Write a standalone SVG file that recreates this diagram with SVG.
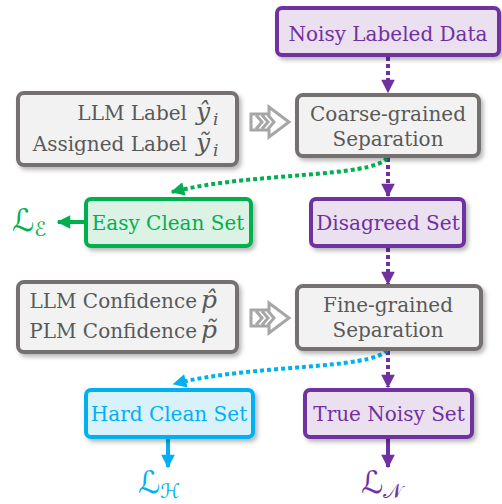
<svg xmlns="http://www.w3.org/2000/svg" width="502" height="504" viewBox="0 0 502 504">
  <style>
    .lbl { font-family: "DejaVu Serif", "Liberation Serif", serif; font-size: 20px; text-anchor: middle; }
    .lblR { font-family: "DejaVu Serif", "Liberation Serif", serif; font-size: 20px; text-anchor: end; }
    .math { font-family: "DejaVu Serif", "Liberation Serif", serif; font-style: italic; font-size: 25px; }
    .sub { font-family: "DejaVu Serif", "Liberation Serif", serif; font-style: italic; font-size: 17px; }
    .cal { font-family: "DejaVu Serif", "DejaVu Sans", serif; font-size: 31px; }
    .calsub { font-size: 20px; }
    .box { stroke-width: 4; filter: url(#shadow); }
    .purple { fill: #ebe0f0; stroke: #7030a0; }
    .gray { fill: #f2f2f2; stroke: #767171; }
    .green { fill: #dcf2e5; stroke: #00b050; }
    .blue { fill: #d9f1fb; stroke: #00b0f0; }
    .tp { fill: #7030a0; }
    .tg { fill: #595959; }
    .tgr { fill: #00b050; }
    .tb { fill: #00b0f0; }
    .dotP { fill: none; stroke: #7030a0; stroke-width: 4; stroke-dasharray: 4 3; }
    .dotG { fill: none; stroke: #00b050; stroke-width: 4; stroke-dasharray: 4 3; }
    .dotB { fill: none; stroke: #00b0f0; stroke-width: 4; stroke-dasharray: 4 3; }
    .striped { fill: #ffffff; stroke: #a6a6a6; stroke-width: 3; stroke-linejoin: miter; }
  </style>
  <defs>
    <filter id="shadow" x="-10%" y="-10%" width="130%" height="140%">
      <feDropShadow dx="2.5" dy="3" stdDeviation="2" flood-color="#000" flood-opacity="0.28"/>
    </filter>
    <marker id="headP" viewBox="0 0 10 10" refX="9" refY="5" markerWidth="3.6" markerHeight="3.4" orient="auto" markerUnits="strokeWidth">
      <path d="M0,0 L10,5 L0,10 Z" fill="#7030a0"/>
    </marker>
    <marker id="headG" viewBox="0 0 10 10" refX="9" refY="5" markerWidth="3.6" markerHeight="3.4" orient="auto" markerUnits="strokeWidth">
      <path d="M0,0 L10,5 L0,10 Z" fill="#00b050"/>
    </marker>
    <marker id="headB" viewBox="0 0 10 10" refX="9" refY="5" markerWidth="3.6" markerHeight="3.4" orient="auto" markerUnits="strokeWidth">
      <path d="M0,0 L10,5 L0,10 Z" fill="#00b0f0"/>
    </marker>
    <g id="stripedArrow">
      <path class="striped" d="M0,-8 L18,-8 L18,-15 L38,0 L18,15 L18,8 L0,8 Z"/>
      <path d="M5,-7 L11,0 L5,7 M11,-7 L17,0 L11,7 M17,-7 L23,0 L17,7" stroke="#a6a6a6" stroke-width="3" fill="none"/>
    </g>
  </defs>

  <!-- connectors -->
  <g id="connectors">
    <path class="dotP" d="M388,57 V92" marker-end="url(#headP)"/>
    <path class="dotP" d="M388,158 V196" marker-end="url(#headP)"/>
    <path class="dotP" d="M388,248 V284" marker-end="url(#headP)"/>
    <path class="dotP" d="M388,351 V387" marker-end="url(#headP)"/>
    <path class="dotG" d="M387,158 C372,178 250,172 172,192" marker-end="url(#headG)"/>
    <path class="dotB" d="M387,350 C372,370 250,364 174,384" marker-end="url(#headB)"/>
    <path d="M85,222 H58" stroke="#00b050" stroke-width="4" fill="none" marker-end="url(#headG)"/>
    <path d="M168,439 V467" stroke="#00b0f0" stroke-width="4" fill="none" marker-end="url(#headB)"/>
    <path d="M388,439 V467" stroke="#7030a0" stroke-width="4" fill="none" marker-end="url(#headP)"/>
    <use href="#stripedArrow" x="251" y="122"/>
    <use href="#stripedArrow" x="251" y="318"/>
  </g>

  <g id="noisy-labeled-data">
    <rect class="box purple" x="277" y="8" width="222" height="47" rx="5"/>
    <text class="lbl tp" x="388" y="41">Noisy Labeled Data</text>
  </g>

  <g id="label-inputs">
    <rect class="box gray" x="18" y="93" width="219" height="72" rx="6"/>
    <text class="lblR tg" x="187" y="120">LLM Label</text>
    <text class="math tg" x="196" y="120">ŷ</text>
    <text class="sub tg" x="213" y="125">i</text>
    <text class="lblR tg" x="187" y="151">Assigned Label</text>
    <text class="math tg" x="196" y="151">ỹ</text>
    <text class="sub tg" x="213" y="156">i</text>
  </g>

  <g id="coarse-separation">
    <rect class="box gray" x="297" y="95" width="182" height="61" rx="6"/>
    <text class="lbl tg" x="388" y="121">Coarse-grained</text>
    <text class="lbl tg" x="388" y="146">Separation</text>
  </g>

  <g id="easy-clean-set">
    <rect class="box green" x="86" y="199" width="165" height="47" rx="5"/>
    <text class="lbl tgr" x="168" y="230">Easy Clean Set</text>
  </g>

  <g id="loss-easy">
    <text class="cal tgr" x="12" y="231">ℒ<tspan class="calsub" dy="5">ℰ</tspan></text>
  </g>

  <g id="disagreed-set">
    <rect class="box purple" x="311" y="199" width="153" height="47" rx="5"/>
    <text class="lbl tp" x="388" y="230">Disagreed Set</text>
  </g>

  <g id="confidence-inputs">
    <rect class="box gray" x="18" y="282" width="219" height="70" rx="6"/>
    <text class="lblR tg" x="197" y="308">LLM Confidence</text>
    <text class="math tg" x="201" y="308">p̂</text>
    <text class="lblR tg" x="197" y="338">PLM Confidence</text>
    <text class="math tg" x="201" y="338">p̃</text>
  </g>

  <g id="fine-separation">
    <rect class="box gray" x="297" y="286" width="184" height="63" rx="6"/>
    <text class="lbl tg" x="388" y="312">Fine-grained</text>
    <text class="lbl tg" x="388" y="337">Separation</text>
  </g>

  <g id="hard-clean-set">
    <rect class="box blue" x="86" y="390" width="167" height="47" rx="5"/>
    <text class="lbl tb" x="169" y="421">Hard Clean Set</text>
  </g>

  <g id="true-noisy-set">
    <rect class="box purple" x="305" y="390" width="167" height="47" rx="5"/>
    <text class="lbl tp" x="389" y="421">True Noisy Set</text>
  </g>

  <g id="loss-hard">
    <text class="cal tb" x="138" y="493">ℒ<tspan class="calsub" dy="5">ℋ</tspan></text>
  </g>

  <g id="loss-noisy">
    <text class="cal tp" x="361" y="493">ℒ<tspan class="calsub" dy="5">𝒩</tspan></text>
  </g>
</svg>
